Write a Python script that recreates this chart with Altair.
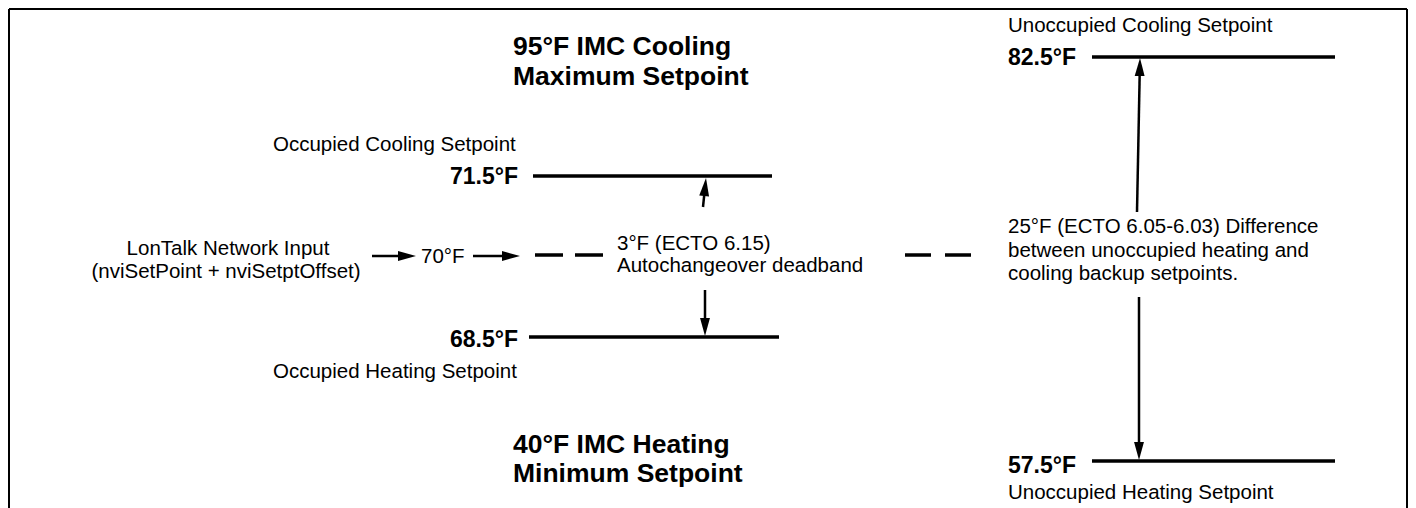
import math
import altair as alt
import pandas as pd

# ---- values (°F) ----
setpoint_names = ["Unoccupied Cooling Setpoint", "Occupied Cooling Setpoint",
                  "Network Input", "Occupied Heating Setpoint", "Unoccupied Heating Setpoint"]
setpoint_values = [82.5, 71.5, 70, 68.5, 57.5]
imc_cooling_max = 95
imc_heating_min = 40
deadband_ecto = "6.15"
diff_ecto = "6.05-6.03"

def f(v):
    return f"{v:g}°F"

deadband = setpoint_values[1] - setpoint_values[3]
unocc_diff = setpoint_values[0] - setpoint_values[4]

# ---- layout (page pixel space) ----
X0, X1, Y0, Y1 = 8, 1408, 8, 500
xs = alt.Scale(domain=[X0, X1], nice=False, zero=False)
ys = alt.Scale(domain=[Y0, Y1], nice=False, zero=False, reverse=True)

FONT = "Liberation Sans"

# setpoint lines: x start, x end, y
line_x1 = [1092, 533, 529, 1092]
line_x2 = [1335, 772, 779, 1335]
line_y = [57, 176, 337, 461]
lines = pd.DataFrame({"x": line_x1, "x2": line_x2, "y": line_y, "y2": line_y})

# border
border = pd.DataFrame({
    "x": [9, 9, 1407], "x2": [1407, 9, 1407],
    "y": [9, 9, 9], "y2": [9, 508, 508]})

# dashed deadband segments
dash_l = pd.DataFrame({"x": [535], "x2": [603], "y": [255], "y2": [255]})
dash_r = pd.DataFrame({"x": [905], "x2": [972], "y": [255], "y2": [255]})

# arrows: start -> tip
arr_x1 = [372, 473, 703, 705, 1137, 1139]
arr_y1 = [256, 256, 207, 290, 212, 297]
arr_x2 = [416, 520, 706, 705, 1140, 1139]
arr_y2 = [256, 256, 178, 336, 58, 460]
HEAD = 18.0
rows_s, rows_h = [], []
for a, b, c, d in zip(arr_x1, arr_y1, arr_x2, arr_y2):
    dx, dy = c - a, d - b
    L = math.hypot(dx, dy)
    ux, uy = dx / L, dy / L
    ang = math.degrees(math.atan2(dx, -dy)) % 360
    rows_h.append({"x": c - ux * HEAD / 2, "y": d - uy * HEAD / 2, "ang": ang})
    rows_s.append({"x": a, "y": b, "x2": c - ux * HEAD * 0.6, "y2": d - uy * HEAD * 0.6})
shafts = pd.DataFrame(rows_s)
heads = pd.DataFrame(rows_h)

# texts
reg_left = pd.DataFrame({
    "t": [setpoint_names[1], setpoint_names[3], f(setpoint_values[2]),
          f"{deadband:g}°F (ECTO {deadband_ecto})", "Autochangeover deadband",
          "Unoccupied Cooling Setpoint",
          f"{unocc_diff:g}°F (ECTO {diff_ecto}) Difference",
          "between unoccupied heating and", "cooling backup setpoints.",
          "Unoccupied Heating Setpoint"],
    "x": [273, 273, 421, 617, 617, 1008, 1008, 1008, 1008, 1008],
    "y": [151, 378, 263, 250, 272, 32, 233, 257, 280, 499]})
reg_center = pd.DataFrame({
    "t": ["LonTalk Network Input", "(nviSetPoint + nviSetptOffset)"],
    "x": [228, 226], "y": [255, 278]})
val_right = pd.DataFrame({
    "t": [f(setpoint_values[1]), f(setpoint_values[3])],
    "x": [518, 518], "y": [184, 347]})
val_left = pd.DataFrame({
    "t": [f(setpoint_values[0]), f(setpoint_values[4])],
    "x": [1008, 1008], "y": [65, 473]})
titles = pd.DataFrame({
    "t": [f"{imc_cooling_max}°F IMC Cooling", "Maximum Setpoint",
          f"{imc_heating_min}°F IMC Heating", "Minimum Setpoint"],
    "x": [513, 513, 513, 513], "y": [55, 85, 453, 482]})


def X(f="x"):
    return alt.X(f"{f}:Q", scale=xs, axis=None)


def Y(f="y"):
    return alt.Y(f"{f}:Q", scale=ys, axis=None)


def rule_layer(df, width, dash=None):
    kw = dict(color="black", strokeWidth=width, strokeCap="butt")
    if dash:
        kw["strokeDash"] = dash
    return alt.Chart(df).mark_rule(**kw).encode(
        x=X(), x2="x2:Q", y=Y(), y2="y2:Q")


def text_layer(df, size, weight="normal", align="left"):
    return alt.Chart(df).mark_text(
        font=FONT, fontSize=size, fontWeight=weight, align=align,
        baseline="alphabetic", color="black").encode(
        x=X(), y=Y(), text="t:N")


layers = [
    rule_layer(border, 2),
    rule_layer(lines, 3.5),
    rule_layer(dash_l, 3.5, [28, 12]),
    rule_layer(dash_r, 3.5, [26, 14]),
    rule_layer(shafts, 2.5),
    alt.Chart(heads).mark_point(
        shape="M0,-1L0.55,1L-0.55,1Z", filled=True, fill="black",
        opacity=1, strokeWidth=0, size=HEAD * HEAD).encode(
        x=X(), y=Y(), angle=alt.Angle("ang:Q", scale=None)),
    text_layer(reg_left, 20.5),
    text_layer(reg_center, 20.5, align="center"),
    text_layer(val_right, 23, "bold", "right"),
    text_layer(val_left, 23, "bold"),
    text_layer(titles, 26.5, "bold"),
]

chart = alt.layer(*layers).properties(
    width=X1 - X0, height=Y1 - Y0,
    padding={"left": 0, "top": 0, "right": 0, "bottom": 8},
    autosize=alt.AutoSizeParams(type="none"),
    background="white",
).configure_view(stroke=None)

chart.save("out.html", embed_options={"renderer": "svg", "actions": False})
